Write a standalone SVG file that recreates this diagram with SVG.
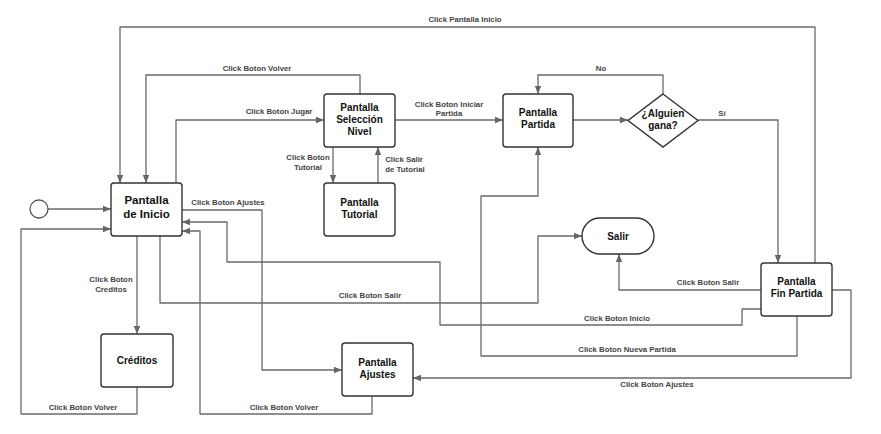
<svg xmlns="http://www.w3.org/2000/svg" width="881" height="434" viewBox="0 0 881 434">
<defs>
<marker id="ah" markerUnits="userSpaceOnUse" markerWidth="9" markerHeight="8" refX="8" refY="4" orient="auto">
<path d="M0,0.8 L8,4 L0,7.2 Z" fill="#666"/>
</marker>
<style>
.node{fill:#fff;stroke:#333;stroke-width:1.4}
.nt{font-family:"Liberation Sans",Arial,sans-serif;font-weight:bold;font-size:10px;fill:#111;text-anchor:middle}
.big{font-size:11.5px}
.lbl{font-family:"Liberation Sans",Arial,sans-serif;font-weight:bold;font-size:7.8px;fill:#444;text-anchor:middle}
.cn path{fill:none;stroke:#6a6a6a;stroke-width:1.3;stroke-linejoin:round;marker-end:url(#ah)}
</style>
</defs>
<rect width="881" height="434" fill="#fff"/>
<g class="cn" id="connectors">
<path d="M48,209 H111"/>
<path d="M137,387 V414 H21 V229 H111"/>
<path d="M815,263 V27 H120 V183"/>
<path d="M360,94 V75 H146 V183"/>
<path d="M176,183 V120 H324"/>
<path d="M395,120 H503"/>
<path d="M333,147 V183"/>
<path d="M378,183 V147"/>
<path d="M573,120 H628"/>
<path d="M663,94 V75 H538 V94"/>
<path d="M698,120 H778 V263"/>
<path d="M182,210 H262 V370 H342"/>
<path d="M137,236 V334"/>
<path d="M160,236 V303 H538 V236 H582"/>
<path d="M372,396 V414 H200 V231 H182"/>
<path d="M761,290 H619 V254"/>
<path d="M761,309 H742 V325 H440 V262 H227 V222 H182"/>
<path d="M797,316 V356 H481 V196 H538 V147"/>
<path d="M832,290 H851 V378 H413"/>
</g>
<g id="labels">
<text class="lbl" x="465" y="22">Click Pantalla Inicio</text>
<text class="lbl" x="257" y="71">Click Boton Volver</text>
<text class="lbl" x="279" y="114">Click Boton Jugar</text>
<text class="lbl" x="449" y="107">Click Boton Iniciar</text>
<text class="lbl" x="449" y="116">Partida</text>
<text class="lbl" x="601" y="71">No</text>
<text class="lbl" x="722" y="116">Sí</text>
<text class="lbl" x="308" y="160">Click Boton</text>
<text class="lbl" x="308" y="170">Tutorial</text>
<text class="lbl" x="404" y="162">Click Salir</text>
<text class="lbl" x="405" y="172">de Tutorial</text>
<text class="lbl" x="228" y="205">Click Boton Ajustes</text>
<text class="lbl" x="111" y="282">Click Boton</text>
<text class="lbl" x="111" y="292">Creditos</text>
<text class="lbl" x="370" y="298">Click Boton Salir</text>
<text class="lbl" x="83" y="410">Click Boton Volver</text>
<text class="lbl" x="284" y="410">Click Boton Volver</text>
<text class="lbl" x="708" y="285">Click Boton Salir</text>
<text class="lbl" x="617" y="321">Click Boton Inicio</text>
<text class="lbl" x="627" y="352">Click Boton Nueva Partida</text>
<text class="lbl" x="657" y="387">Click Boton Ajustes</text>
</g>
<g id="start"><circle cx="39" cy="209" r="9" fill="#fff" stroke="#555" stroke-width="1.3"/></g>
<g id="inicio"><rect class="node" x="111" y="183" width="71" height="53" rx="3"/>
<text class="nt big" x="146.5" y="204">Pantalla</text><text class="nt big" x="146.5" y="218">de Inicio</text></g>
<g id="seleccion"><rect class="node" x="324" y="94" width="71" height="53" rx="3"/>
<text class="nt" x="359.5" y="111">Pantalla</text><text class="nt" x="359.5" y="123">Selección</text><text class="nt" x="359.5" y="135">Nivel</text></g>
<g id="tutorial"><rect class="node" x="324" y="183" width="71" height="53" rx="3"/>
<text class="nt" x="359.5" y="206">Pantalla</text><text class="nt" x="359.5" y="218">Tutorial</text></g>
<g id="partida"><rect class="node" x="503" y="94" width="70" height="53" rx="3"/>
<text class="nt" x="538" y="116">Pantalla</text><text class="nt" x="538" y="128">Partida</text></g>
<g id="decision"><path class="node" d="M663,94 L698,120.5 L663,147 L628,120.5 Z"/>
<text class="nt" x="663" y="117">¿Alguien</text><text class="nt" x="663" y="129">gana?</text></g>
<g id="salir"><rect class="node" x="582" y="218" width="72" height="36" rx="18"/>
<text class="nt" x="618" y="239.5">Salir</text></g>
<g id="fin"><rect class="node" x="761" y="263" width="71" height="53" rx="3"/>
<text class="nt" x="796.5" y="285">Pantalla</text><text class="nt" x="796.5" y="297">Fin Partida</text></g>
<g id="creditos"><rect class="node" x="101" y="334" width="72" height="53" rx="3"/>
<text class="nt" x="137" y="363.5">Créditos</text></g>
<g id="ajustes"><rect class="node" x="342" y="343" width="71" height="53" rx="3"/>
<text class="nt" x="377.5" y="366">Pantalla</text><text class="nt" x="377.5" y="378">Ajustes</text></g>
</svg>
